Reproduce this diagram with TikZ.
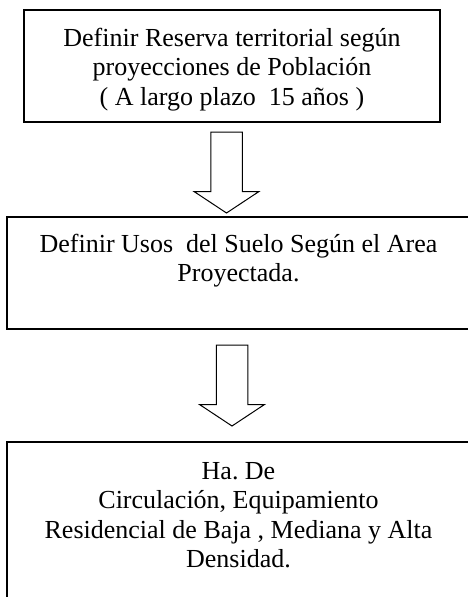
\documentclass[tikz,border=0pt]{standalone}
\usepackage{fontspec}
\setmainfont{Liberation Serif}
\usetikzlibrary{calc}
\frenchspacing
\tikzset{
  flowbox/.style={draw=black, line width=1.5pt, rectangle, inner sep=0pt, outer sep=0pt},
  boxtext/.style={anchor=north, align=center, inner sep=0pt, outer sep=0pt,
                  font=\fontsize{26}{29.5}\selectfont},
  arrowline/.style={draw=black, line width=1pt, line join=miter, fill=white},
  downarrow/.pic={
    \draw[arrowline] (-15.75,0) -- (-15.75,59.5) -- (-32.5,59.5) -- (0,81)
      -- (32.5,59.5) -- (15.75,59.5) -- (15.75,0) -- cycle;
  }
}
\begin{document}
\begin{tikzpicture}[x=1pt,y=-1pt]
  \useasboundingbox (0,0) rectangle (468,597);
  \fill[white] (0,0) rectangle (468,597);
  \clip (0,0) rectangle (468,597);

  % boxes
  \node[flowbox, minimum width=416pt, minimum height=112pt] (b1) at (232,66) {};
  \node[flowbox, minimum width=463pt, minimum height=112pt] (b2) at (238.5,273) {};
  \node[flowbox, minimum width=463pt, minimum height=160pt] (b3) at (238.5,522) {};

  % texts
  \node[boxtext] (t1) at ($(b1.north)+(0,15.4)$)
    {Definir Reserva territorial según\strut\\
     proyecciones de Población\strut\\
     ( A largo plazo~ 15 años )\strut};
  \node[boxtext] (t2) at ($(b2.north)+(0,14.4)$)
    {Definir Usos~ del Suelo Según el Area\strut\\
     Proyectada.\strut};
  \node[boxtext] (t3) at ($(b3.north)+(0,16.4)$)
    {Ha. De\strut\\
     Circulación, Equipamiento\strut\\
     Residencial de Baja , Mediana y Alta\strut\\
     Densidad.\strut};

  % block arrows between boxes
  \coordinate (a1) at ($(b1.south)+(-5.5,10)$);
  \coordinate (a2) at ($(b2.south)+(-6.5,16)$);
  \pic at (a1) {downarrow};
  \pic at (a2) {downarrow};
\end{tikzpicture}
\end{document}
